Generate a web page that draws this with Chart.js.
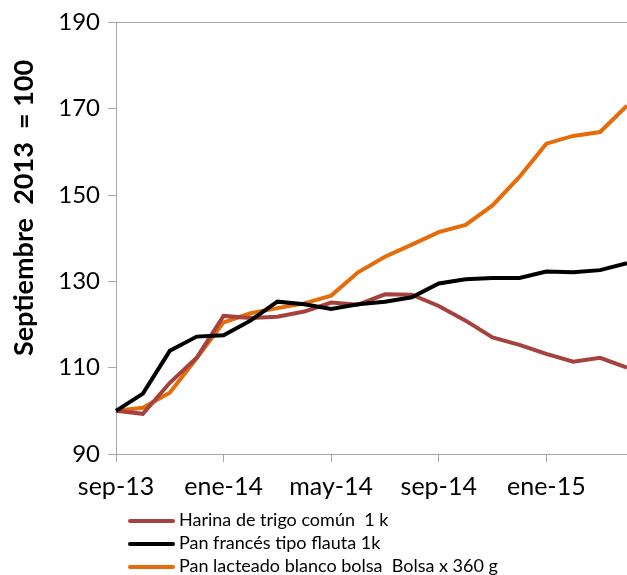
<!DOCTYPE html>
<html>
<head>
<meta charset="utf-8">
<script src="https://cdn.jsdelivr.net/npm/chart.js@4/dist/chart.umd.min.js"></script>
<style>
  body { margin: 0; background: #fff; }
  #wrap { position: relative; width: 627px; height: 575px; overflow: hidden; }
  #legend { position: absolute; left: 128px; top: 508px; font-family: Lato, sans-serif; font-size: 18px; color: #000; }
  #legend div { height: 23px; line-height: 23px; white-space: pre; }
  #legend span { display: inline-block; width: 47px; height: 4px; border-radius: 2px; vertical-align: middle; margin-right: 4px; }
</style>
</head>
<body>
<div id="wrap">
  <canvas id="precios" width="627" height="575"></canvas>
  <div id="legend"></div>
</div>
<script>
const meses = ["sep-13", "oct-13", "nov-13", "dic-13", "ene-14", "feb-14", "mar-14", "abr-14",
  "may-14", "jun-14", "jul-14", "ago-14", "sep-14", "oct-14", "nov-14", "dic-14",
  "ene-15", "feb-15", "mar-15", "abr-15"];
const harina = [100, 99.3, 106.5, 112.3, 122.0, 121.5, 121.8, 123.0, 125.1, 124.6,
  127.0, 126.9, 124.3, 120.9, 117.0, 115.3, 113.2, 111.4, 112.3, 110.0];
const panFrances = [100, 104.0, 113.9, 117.2, 117.5, 120.9, 125.3, 124.7, 123.6, 124.7,
  125.3, 126.3, 129.5, 130.5, 130.8, 130.8, 132.3, 132.1, 132.6, 134.2];
const panLacteado = [100, 100.7, 104.2, 112.2, 120.5, 122.6, 123.8, 124.9, 126.7, 132.1,
  135.7, 138.5, 141.4, 143.1, 147.6, 154.2, 161.9, 163.7, 164.6, 170.7];
const nombres = ["Harina de trigo común  1 k", "Pan francés tipo flauta 1k", "Pan lacteado blanco bolsa  Bolsa x 360 g"];
const colores = ["#A5423D", "#000000", "#E46C0A"];
const tituloY = "Septiembre  2013  = 100";

const ejeGris = "#A6A6A6";

// titulo del eje y, dibujado a mano para poder ubicarlo como en el original
const tituloPlugin = {
  id: "tituloY",
  afterDraw(chart) {
    const c = chart.ctx;
    c.save();
    c.translate(24, 208);
    c.rotate(-Math.PI / 2);
    c.font = "bold 27px Lato";
    c.fillStyle = "#000";
    c.textAlign = "center";
    c.textBaseline = "middle";
    c.fillText(tituloY, 0, 0);
    c.restore();
  },
};

const series = [harina, panFrances, panLacteado];
const ctx = document.querySelector("#precios").getContext("2d");
const myChart = new Chart(ctx, {
  type: "line",
  data: {
    labels: meses,
    datasets: series.map((s, i) => ({
      label: nombres[i],
      data: s,
      borderColor: colores[i],
      backgroundColor: colores[i],
      borderWidth: 4,
      pointRadius: 0,
      tension: 0,
      order: i === 1 ? 0 : 1,
    })),
  },
  plugins: [tituloPlugin],
  options: {
    responsive: false,
    animation: false,
    layout: { padding: { top: 21, left: 0, right: 0, bottom: 0 } },
    plugins: { legend: { display: false }, tooltip: { enabled: false } },
    scales: {
      x: {
        offset: false,
        afterFit(scale) { scale.height = 121; scale.paddingRight = 0; },
        border: { color: ejeGris, width: 1 },
        grid: {
          drawOnChartArea: false,
          tickLength: 8,
          tickColor: (c) => (c.index % 4 === 0 ? ejeGris : "transparent"),
        },
        ticks: {
          autoSkip: false,
          maxRotation: 0,
          padding: 10,
          color: "#000",
          font: { family: "Lato", size: 25 },
          callback: function (v, i) { return i % 4 === 0 ? meses[i] : ""; },
        },
      },
      y: {
        min: 90,
        max: 190,
        afterFit(scale) { scale.width = 116; },
        border: { color: ejeGris, width: 1 },
        grid: {
          tickLength: 8,
          tickColor: ejeGris,
          color: (c) => (c.tick && c.tick.value === 190 ? ejeGris : "transparent"),
        },
        ticks: {
          stepSize: 20,
          padding: 8,
          color: "#000",
          font: { family: "Lato", size: 24 },
        },
      },
    },
  },
});

const leyenda = document.querySelector("#legend");
nombres.forEach((n, i) => {
  const fila = document.createElement("div");
  const linea = document.createElement("span");
  linea.style.background = colores[i];
  fila.appendChild(linea);
  fila.appendChild(document.createTextNode(n));
  leyenda.appendChild(fila);
});
</script>
</body>
</html>
